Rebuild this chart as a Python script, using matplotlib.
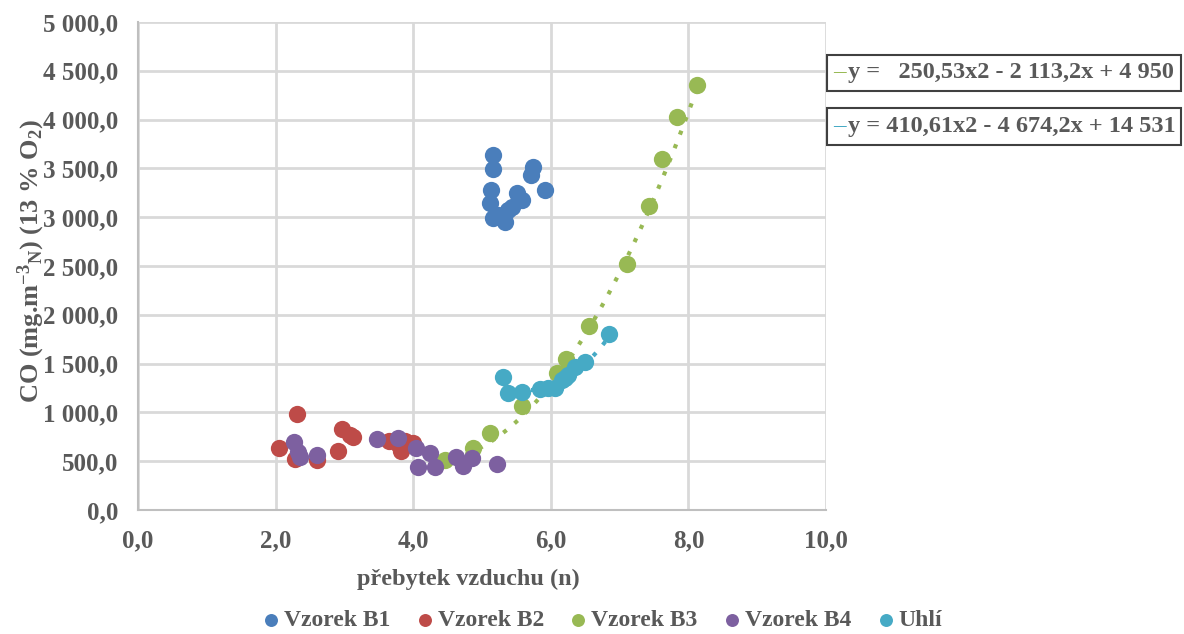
import numpy as np
import matplotlib.pyplot as plt
from matplotlib.patches import Rectangle
from matplotlib.ticker import FuncFormatter, MultipleLocator

plt.rcParams['font.family'] = ['Liberation Serif', 'DejaVu Serif']
plt.rcParams['font.weight'] = 'bold'
plt.rcParams['mathtext.fontset'] = 'custom'
plt.rcParams['mathtext.rm'] = 'Liberation Serif:bold'
plt.rcParams['mathtext.it'] = 'Liberation Serif:bold'
plt.rcParams['mathtext.bf'] = 'Liberation Serif:bold'
plt.rcParams['mathtext.default'] = 'rm'

GREY = '#595959'

# data: (prebytek vzduchu n, CO mg/m3)
b1_x = [5.16, 5.16, 5.13, 5.12, 5.16, 5.23, 5.33, 5.38, 5.44, 5.51, 5.58, 5.74, 5.71, 5.92, 5.29]
b1_y = [3637, 3494, 3279, 3145, 2992, 3023, 2951, 3074, 3105, 3248, 3176, 3514, 3432, 3279, 3002]

b2_x = [2.31, 2.05, 2.28, 2.60, 2.96, 3.12, 3.08, 2.91, 3.65, 3.78, 3.82, 3.88, 4.00]
b2_y = [984, 638, 519, 512, 827, 751, 768, 604, 707, 676, 604, 707, 686]

b3_x = [4.46, 4.87, 5.12, 5.58, 6.09, 6.22, 6.56, 7.10, 7.43, 7.62, 7.84, 8.12]
b3_y = [512, 632, 786, 1066, 1400, 1550, 1890, 2517, 3118, 3593, 4023, 4355]

b4_x = [2.26, 2.33, 2.35, 2.60, 3.47, 3.78, 4.04, 4.07, 4.24, 4.32, 4.62, 4.72, 4.85, 5.21]
b4_y = [700, 597, 546, 563, 730, 735, 638, 444, 581, 437, 546, 451, 530, 471]

uhli_x = [5.30, 5.38, 5.58, 5.84, 5.96, 6.06, 6.16, 6.21, 6.25, 6.35, 6.50, 6.84]
uhli_y = [1360, 1195, 1212, 1237, 1253, 1247, 1332, 1349, 1383, 1469, 1520, 1800]

# trend line coefficients shown on the chart
b3_fit = [250.53, -2113.2, 4950]
uhli_fit = [410.61, -4674.2, 14531]

series = [
    ('Vzorek B1', b1_x, b1_y, '#4a7ebb'),
    ('Vzorek B2', b2_x, b2_y, '#be4b48'),
    ('Vzorek B3', b3_x, b3_y, '#98b954'),
    ('Vzorek B4', b4_x, b4_y, '#7d60a0'),
    ('Uhlí', uhli_x, uhli_y, '#46aac5'),
]

fig = plt.figure(figsize=(11.84, 6.34), dpi=100)
ax = fig.add_axes([0.1166, 0.1956, 0.5811, 0.7697])

for name, xs, ys, col in series:
    ax.scatter(xs, ys, s=155, color=col, label=name, zorder=3, linewidths=0)

# trend lines
xt = np.linspace(4.35, max(b3_x), 100)
ax.plot(xt, np.polyval(b3_fit, xt), ls=(0, (1, 2.5)), color='#98b954', lw=3, zorder=2)
xt = np.linspace(min(uhli_x), max(uhli_x), 100)
ax.plot(xt, np.polyval(uhli_fit, xt), ls=(0, (1, 2.5)), color='#46aac5', lw=3, zorder=2)

ax.set_xlim(0, 10)
ax.set_ylim(0, 5000)
ax.xaxis.set_major_locator(MultipleLocator(2))
ax.yaxis.set_major_locator(MultipleLocator(500))


def fmt(v, pos):
    s = f'{v:,.1f}'.replace(',', ' ').replace('.', ',')
    return s


ax.xaxis.set_major_formatter(FuncFormatter(fmt))
ax.yaxis.set_major_formatter(FuncFormatter(fmt))
ax.grid(True, color='#d9d9d9', lw=2)
ax.set_axisbelow(True)
for sp in ['top', 'right']:
    ax.spines[sp].set_visible(False)
for sp in ['left', 'bottom']:
    ax.spines[sp].set_color('#bfbfbf')
    ax.spines[sp].set_linewidth(1.5)
ax.tick_params(length=0, labelsize=18, labelcolor=GREY, pad=14)
for lab in ax.get_xticklabels() + ax.get_yticklabels():
    lab.set_fontweight('bold')

ax.set_xlabel('přebytek vzduchu (n)', fontsize=17.5, color=GREY, fontweight='bold')
ax.set_ylabel(r'CO (mg.m$^{-3}$$_{\mathrm{N}}$) (13 % O$_{2}$)',
              fontsize=19, color=GREY, fontweight='bold')
ax.yaxis.set_label_coords(-0.132, 0.51)
ax.xaxis.set_label_coords(0.48, -0.12)

leg = fig.legend(loc='center', bbox_to_anchor=(0.508, 0.022), ncol=5, frameon=False,
                 fontsize=17, handletextpad=0.1, columnspacing=1.0, markerscale=0.75,
                 handlelength=0.9, borderpad=0.1)
for t in leg.get_texts():
    t.set_color(GREY)

# equation boxes
boxes = [
    (0.856, '#98b954', 'y =   250,53x2 - 2 113,2x + 4 950'),
    (0.771, '#46aac5', 'y = 410,61x2 - 4 674,2x + 14 531'),
]
for y0, col, txt in boxes:
    fig.patches.append(Rectangle((0.6985, y0), 0.299, 0.058, transform=fig.transFigure,
                                 fill=False, edgecolor='#404040', lw=1.5))
    fig.text(0.7035, y0 + 0.032, '–', color=col, fontsize=18, va='center', fontweight='normal')
    fig.text(0.716, y0 + 0.029, txt, color=GREY, fontsize=17.5, va='center', fontweight='bold')

fig.savefig('out.png', dpi=100)
